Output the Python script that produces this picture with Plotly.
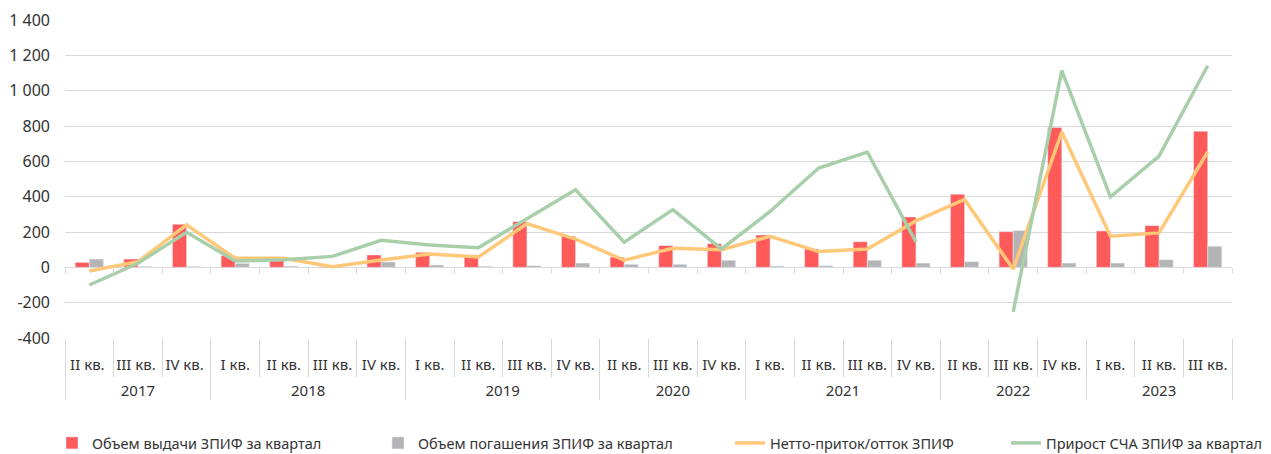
import plotly.graph_objects as go

years = ["2017"] * 3 + ["2018"] * 4 + ["2019"] * 4 + ["2020"] * 3 + ["2021"] * 4 + ["2022"] * 3 + ["2023"] * 3
# trailing spaces on the 2017 labels keep plotly's multicategory ordering (first-appearance) intact;
# SVG collapses them so they look identical
quarters = ["II кв. ", "III кв. ", "IV кв. ",
            "I кв.", "II кв.", "III кв.", "IV кв.",
            "I кв.", "II кв.", "III кв.", "IV кв.",
            "II кв.", "III кв.", "IV кв.",
            "I кв.", "II кв.", "III кв.", "IV кв.",
            "II кв.", "III кв.", "IV кв.",
            "I кв.", "II кв.", "III кв."]

issue = [28, 47, 244, 66, 55, 3, 70, 85, 70, 259, 176, 58, 123, 134, 183, 104, 145, 285, 414, 202, 792, 206, 236, 770]
redeem = [47, 5, 5, 22, 7, 2, 30, 13, 6, 9, 24, 17, 17, 40, 7, 9, 40, 24, 32, 208, 24, 24, 43, 119]
net = [-21, 32, 240, 51, 51, 3, 41, 75, 58, 247, 160, 40, 108, 100, 176, 89, 104, 263, 384, -10, 766, 176, 195, 653]
nav = [-100, 23, 199, 36, 43, 62, 153, 127, 111, 275, 439, 142, 327, 104, 316, 562, 652, 145, None, -252, 1114, 399, 630, 1141]

names = ["Объем выдачи ЗПИФ за квартал", "Объем погашения ЗПИФ за квартал",
         "Нетто-приток/отток ЗПИФ", "Прирост СЧА ЗПИФ за квартал"]

ytickvals = [-400, -200, 0, 200, 400, 600, 800, 1000, 1200, 1400]
yticktext = ["-400", "-200", "0", "200", "400", "600", "800", "1 000", "1 200", "1 400"]

FONT = "Noto Sans"
GRID = "#D9D9D9"
TXT = "#333333"
W, H = 1271, 454
# an empty first line pushes the year row further below the quarter row
year_labels = ["<br>" + y for y in years]
x = [year_labels, quarters]
n = len(quarters)
idx = list(range(n))

fig = go.Figure()
fig.add_trace(go.Bar(x=x, y=issue, name=names[0], marker_color="#FF5A5A", legend="legend"))
fig.add_trace(go.Bar(x=x, y=redeem, name=names[1], marker_color="#B4B4B6", legend="legend2"))
fig.add_trace(go.Scatter(x=x, y=net, name=names[2], mode="lines",
                         line=dict(color="#FFC879", width=3.5), legend="legend3"))
fig.add_trace(go.Scatter(x=x, y=nav, name=names[3], mode="lines",
                         line=dict(color="#A9CFAA", width=3.5), legend="legend4"))
# helper (empty) traces so that the tick-only overlay axes get drawn
for ax in ("x2", "x3"):
    fig.add_trace(go.Scatter(x=idx, y=[None] * n, xaxis=ax, yaxis="y", mode="lines",
                             showlegend=False, hoverinfo="skip"))

leg_common = dict(orientation="h", xref="container", yref="container",
                  yanchor="middle", y=(H - 443) / H, xanchor="left",
                  font=dict(family=FONT, size=14.5, color=TXT), bgcolor="rgba(0,0,0,0)")

fig.update_layout(
    width=W, height=H,
    margin=dict(l=65, r=39, t=20, b=116, autoexpand=False),
    paper_bgcolor="white", plot_bgcolor="white",
    barmode="group", bargap=0.42, bargroupgap=0.0,
    font=dict(family=FONT, size=15, color=TXT),
    showlegend=True,
    legend=dict(x=52 / W, **leg_common),
    legend2=dict(x=378 / W, **leg_common),
    legend3=dict(x=730 / W, **leg_common),
    legend4=dict(x=1006 / W, **leg_common),
    yaxis=dict(range=[-400, 1400], tickvals=ytickvals, ticktext=yticktext,
               showgrid=True, gridcolor=GRID, gridwidth=1.3,
               zeroline=True, zerolinecolor=GRID, zerolinewidth=1.3,
               ticks="", ticklabelstandoff=14, automargin=False,
               tickfont=dict(size=16, color=TXT)),
    xaxis=dict(type="multicategory", showgrid=False, tickangle=0,
               ticks="", ticklabelstandoff=16,
               showdividers=True, dividercolor=GRID, dividerwidth=1.3,
               showline=False, automargin=False, tickfont=dict(size=15, color=TXT),
               range=[-0.5, n - 0.5]),
    xaxis2=dict(overlaying="x", anchor="y", side="bottom", range=[-0.5, n - 0.5],
                tickmode="linear", tick0=-0.5, dtick=1, ticks="outside", ticklen=38,
                tickcolor=GRID, tickwidth=1.3, showticklabels=False, showgrid=False,
                zeroline=False, showline=False, automargin=False),
    xaxis3=dict(overlaying="x", anchor="free", position=400 / 1800, range=[-0.5, n - 0.5],
                tickmode="linear", tick0=-0.5, dtick=1, ticks="outside", ticklen=6,
                tickcolor=GRID, tickwidth=1.3, showticklabels=False, showgrid=False,
                zeroline=False, showline=False, automargin=False),
)

fig.write_html("out.html", config={"displayModeBar": False},
               post_script="document.body.style.margin='0px';")
